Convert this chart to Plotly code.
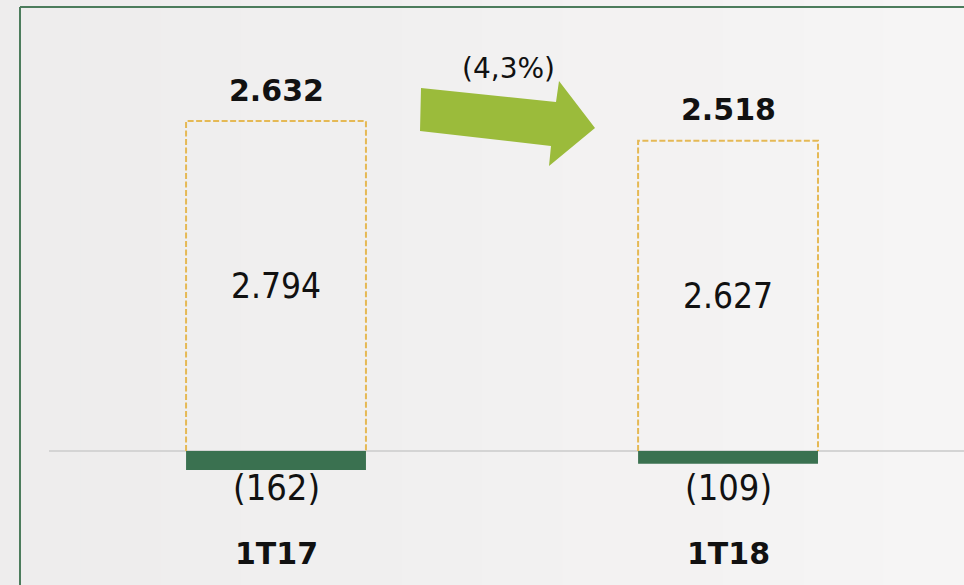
import plotly.graph_objects as go

# ---- data ----
categories = ["1T17", "1T18"]
gross_values = [2794, 2627]
deduction_values = [-162, -109]
total_values = [2632, 2518]
change_label = "(4,3%)"

# ---- geometry helpers (pixel <-> data, derived from axis ranges) ----
W, H = 964, 585
ML = 49
X_RANGE = [-0.5022, 1.522]
Y_RANGE = [-1135, 3819]
PX_X = (W - ML) / (X_RANGE[1] - X_RANGE[0])
PX_Y = H / (Y_RANGE[1] - Y_RANGE[0])


def px2x(px):
    return X_RANGE[0] + (px - ML) / PX_X


def px2y(py):
    return Y_RANGE[1] - py / PX_Y


def fmt(v):
    s = f"{abs(v):,}".replace(",", ".")
    return f"({s})" if v < 0 else s


BAR_W = 0.398
ORANGE = "#e5b955"
GREEN = "#3a7150"
ARROW = "#9bbb3b"
BORDER = "#4c7c5c"
REG_FONT = "DejaVu Sans Condensed, Liberation Sans, sans-serif"
BOLD_FONT = "DejaVu Sans, Verdana, sans-serif"

xs = list(range(len(categories)))

fig = go.Figure()

# transparent bar for positive values
fig.add_trace(go.Bar(x=xs, y=gross_values, width=BAR_W,
                     marker=dict(color="rgba(0,0,0,0)", line=dict(width=0)),
                     hoverinfo="y", showlegend=False))
# dashed outline of positive bars
for x, v in zip(xs, gross_values):
    l, r = x - BAR_W / 2, x + BAR_W / 2
    fig.add_trace(go.Scatter(x=[l, l, r, r], y=[0, v, v, 0], mode="lines",
                             line=dict(color=ORANGE, width=2, dash="6px,2.5px"),
                             hoverinfo="skip", showlegend=False))
# negative green bars
fig.add_trace(go.Bar(x=xs, y=deduction_values, width=BAR_W,
                     marker=dict(color=GREEN, line=dict(width=0)),
                     hoverinfo="y", showlegend=False))

ann = []
for x, g, d, t, c in zip(xs, gross_values, deduction_values, total_values, categories):
    ann.append(dict(x=x, y=g / 2, text=fmt(g), showarrow=False,
                    font=dict(family=REG_FONT, size=35, color="#111")))
    ann.append(dict(x=x, y=g, text=f"<b>{fmt(t)}</b>", showarrow=False, yshift=31,
                    font=dict(family=BOLD_FONT, size=30, color="#111")))
    ann.append(dict(x=x, y=-310, text=fmt(d), showarrow=False,
                    font=dict(family=REG_FONT, size=36, color="#111")))
    ann.append(dict(x=x, y=-870, text=f"<b>{c}</b>", showarrow=False,
                    font=dict(family=BOLD_FONT, size=30, color="#111")))

ann.append(dict(x=px2x(508), y=px2y(68), text=change_label, showarrow=False,
                font=dict(family=BOLD_FONT, size=28, color="#111")))

shapes = []
# subtle background gradient strips
n = 12
for i in range(n):
    c = int(238 + (246 - 238) * i / (n - 1))
    shapes.append(dict(type="rect", xref="paper", yref="paper",
                       x0=(0 - ML) / (W - ML) + i * (W / (W - ML)) / n,
                       x1=(0 - ML) / (W - ML) + (i + 1) * (W / (W - ML)) / n + 0.002,
                       y0=0, y1=1, fillcolor=f"rgb({c},{c - 1},{c - 1})",
                       line=dict(width=0), layer="below"))
# green frame (left and top)
fx = (20 - ML) / (W - ML)
shapes.append(dict(type="line", xref="paper", yref="paper", x0=fx, x1=fx,
                   y0=0, y1=1 - 7 / H, line=dict(color=BORDER, width=2)))
shapes.append(dict(type="line", xref="paper", yref="paper", x0=fx, x1=1.01,
                   y0=1 - 7 / H, y1=1 - 7 / H, line=dict(color=BORDER, width=2)))

# arrow (pixel outline converted to data coords)
arrow_px = [(421, 88), (556, 102), (559, 81), (595, 128), (549, 166), (551, 146), (420, 131)]
path = "M " + " L ".join(f"{px2x(a)},{px2y(b)}" for a, b in arrow_px) + " Z"
shapes.append(dict(type="path", xref="x", yref="y", path=path,
                   fillcolor=ARROW, line=dict(width=0)))

fig.update_layout(
    width=W, height=H,
    margin=dict(l=ML, r=0, t=0, b=0),
    paper_bgcolor="#efeeee", plot_bgcolor="rgba(0,0,0,0)",
    barmode="overlay",
    xaxis=dict(range=X_RANGE, visible=False, fixedrange=True),
    yaxis=dict(range=Y_RANGE, showgrid=False, showticklabels=False, ticks="",
               zeroline=True, zerolinecolor="#d4d4d4", zerolinewidth=1.5,
               showline=False, fixedrange=True),
    annotations=ann, shapes=shapes, showlegend=False,
)

fig.write_html(
    "out.html",
    config={"displayModeBar": False},
    post_script="document.body.style.margin='0';document.body.style.background='#efeeee';",
)
